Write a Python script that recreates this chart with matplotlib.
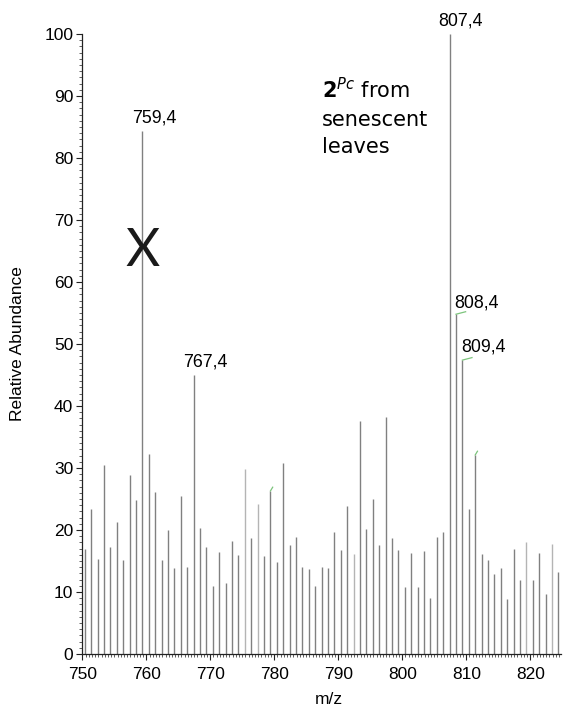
import numpy as np
import matplotlib
matplotlib.use('Agg')
import matplotlib.pyplot as plt

plt.rcParams['font.family'] = ['Liberation Sans', 'DejaVu Sans']
plt.rcParams['mathtext.fontset'] = 'custom'
plt.rcParams['mathtext.rm'] = 'DejaVu Sans'
plt.rcParams['mathtext.it'] = 'DejaVu Sans:italic'
plt.rcParams['mathtext.bf'] = 'DejaVu Sans:bold'

# m/z of each peak (one every mass unit)
mz = [750.4, 751.4, 752.4, 753.4, 754.4, 755.4, 756.4, 757.4, 758.4, 759.4,
      760.4, 761.4, 762.4, 763.4, 764.4, 765.4, 766.4, 767.4, 768.4, 769.4,
      770.4, 771.4, 772.4, 773.4, 774.4, 775.4, 776.4, 777.4, 778.4, 779.4,
      780.4, 781.4, 782.4, 783.4, 784.4, 785.4, 786.4, 787.4, 788.4, 789.4,
      790.4, 791.4, 792.4, 793.4, 794.4, 795.4, 796.4, 797.4, 798.4, 799.4,
      800.4, 801.4, 802.4, 803.4, 804.4, 805.4, 806.4, 807.4, 808.4, 809.4,
      810.4, 811.4, 812.4, 813.4, 814.4, 815.4, 816.4, 817.4, 818.4, 819.4,
      820.4, 821.4, 822.4, 823.4, 824.4]
abundance = [17.0, 23.4, 15.3, 30.4, 17.3, 21.3, 15.1, 28.9, 24.9, 84.4,
             32.3, 26.1, 15.1, 20.0, 13.8, 25.4, 14.0, 45.0, 20.3, 17.3,
             11.0, 16.4, 11.4, 18.2, 15.9, 29.8, 18.7, 24.2, 15.8, 26.3,
             14.8, 30.8, 17.6, 18.9, 14.1, 13.7, 11.0, 14.0, 13.8, 19.7,
             16.7, 23.9, 16.1, 37.6, 20.2, 25.0, 17.6, 38.3, 18.7, 16.7,
             10.8, 16.3, 10.8, 16.6, 9.1, 18.9, 19.6, 100.0, 54.8, 47.4,
             23.4, 32.1, 16.1, 15.2, 12.9, 13.8, 8.9, 17.0, 11.9, 18.1,
             11.9, 16.3, 9.6, 17.7, 13.2]
# peaks drawn in a paler grey
pale = [775.4, 777.4, 792.4, 819.4, 823.4]

labelled = ['759,4', '767,4', '807,4', '808,4', '809,4']
curls = [779.4, 808.4, 809.4, 811.4]

fig = plt.figure(figsize=(5.63, 7.09), dpi=100)
ax = fig.add_axes([0.1462, 0.0776, 0.8502, 0.8745])

mz = np.array(mz)
abundance = np.array(abundance)
colors = ['#b4b4b4' if m in pale else '#808080' for m in mz]
ax.vlines(mz, 0, abundance, colors=colors, linewidth=1.0)

# peak labels
offsets = {'759,4': (1.8, 0.7), '767,4': (1.8, 0.7), '807,4': (1.7, 0.8),
           '808,4': (3.2, 0.4), '809,4': (3.3, 0.8)}
for lab in labelled:
    m = float(lab.replace(',', '.'))
    h = abundance[np.argmin(abs(mz - m))]
    dx, dy = offsets[lab]
    ax.text(m + dx, h + dy, lab, ha='center', va='bottom', fontsize=12.8,
            clip_on=False)

# little green leader ticks at some peak tops
for m in curls:
    h = abundance[np.argmin(abs(mz - m))]
    if m in (808.4, 809.4):
        ax.plot([m, m + 1.5], [h, h + 0.4], color='#7cc47c', lw=0.9)
    else:
        ax.plot([m, m + 0.35], [h, h + 0.6], color='#7cc47c', lw=0.9)

ax.text(759.4, 64.9, 'X', ha='center', va='center', fontsize=38,
        family=['Lato', 'DejaVu Sans'], fontweight='normal', color='#1a1a1a')

ax.text(787.4, 89.7, r'$\mathbf{2}^{\mathit{Pc}}$ from', fontsize=15,
        family='DejaVu Sans', ha='left', va='baseline')
ax.text(787.4, 85.2, 'senescent', fontsize=15, family='DejaVu Sans',
        ha='left', va='baseline')
ax.text(787.4, 80.8, 'leaves', fontsize=15, family='DejaVu Sans',
        ha='left', va='baseline')

ax.set_xlim(750, 824.8)
ax.set_ylim(0, 100)
ax.set_xticks(np.arange(750, 821, 10))
ax.set_xticks(np.arange(750, 825, 0.5), minor=True)
ax.set_yticks(np.arange(0, 101, 10))
ax.set_yticks(np.arange(0, 101, 1), minor=True)
ax.tick_params(axis='both', which='major', direction='out', length=4.5,
               width=0.8, labelsize=12.5, colors='#222222', labelcolor='black')
ax.tick_params(axis='both', which='minor', direction='out', length=2.2,
               width=0.6, colors='#444444')
ax.tick_params(axis='y', which='major', pad=2)
ax.tick_params(axis='x', which='major', pad=5)

for s in ['top', 'right']:
    ax.spines[s].set_visible(False)
for s in ['left', 'bottom']:
    ax.spines[s].set_linewidth(0.9)
    ax.spines[s].set_color('#222222')

ax.set_ylabel('Relative Abundance', fontsize=12.5)
ax.set_xlabel('m/z', fontsize=12.5)
ax.yaxis.set_label_coords(-0.12, 0.5)
ax.xaxis.set_label_coords(0.515, -0.061)

plt.savefig('out.png', dpi=100)
